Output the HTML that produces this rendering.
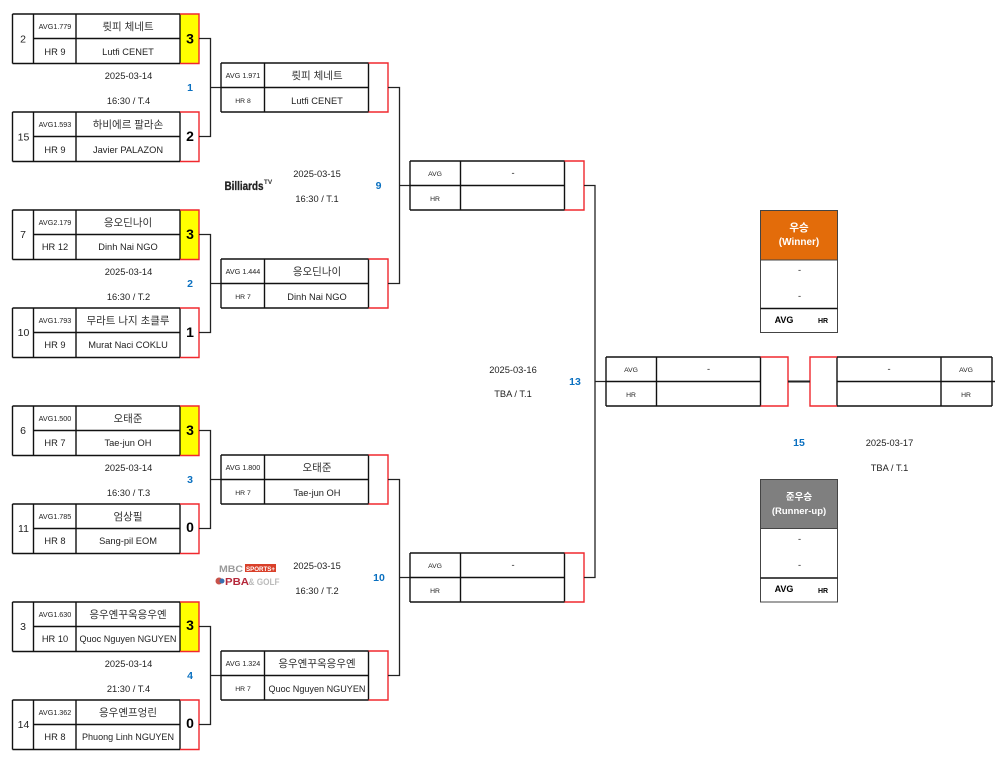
<!DOCTYPE html>
<html><head><meta charset="utf-8"><style>
html,body{margin:0;padding:0;background:#fff}
svg{display:block;font-family:"Liberation Sans","Noto Sans CJK KR",sans-serif}
text{text-anchor:middle;fill:#222;font-size:9.3px}
.s{font-size:7.2px}.x{font-size:6.8px}.k{font-size:10.5px;fill:#333}.d{font-size:9.3px}
.g{font-size:10.5px}
.n{fill:#0a70c0;font-weight:bold;font-size:10.5px}
.b{font-weight:bold;font-size:14px;fill:#000}
.f{fill:none;stroke:#111;stroke-width:1.4}
.r{fill:none;stroke:#f0282e;stroke-width:1.4}
.c{fill:none;stroke:#222;stroke-width:1.3}
</style></head><body>
<svg width="995" height="760" viewBox="0 0 995 760" xmlns="http://www.w3.org/2000/svg">
<defs>
<g id="a"><path class="f" d="M12.5 0H180M12.5 49.5H180M12.5 0V49.5M33.5 0V49.5M76 0V49.5M180 0V49.5M33.5 24.5H180"/><path class="r" d="M180 0H199V49.5H180"/></g>
<g id="b"><path class="f" d="M221 0H368.5M221 49H368.5M221 0V49M264.5 0V49M368.5 0V49M221 24.5H368.5"/><path class="r" d="M368.5 0H388V49H368.5"/></g>
<g id="e"><path class="f" d="M410 0H564.5M410 49H564.5M410 0V49M460.5 0V49M564.5 0V49M410 24.5H564.5"/><path class="r" d="M564.5 0H584V49H564.5"/></g>
<path id="q" class="c" d="M199 24.5H210.5V122.5H199M210.5 73.5H221"/>
<path id="t" class="c" d="M388 24.5H399.5V220.5H388M399.5 122.5H410"/>
</defs>

<rect x="180" y="14" width="19" height="49" fill="#ffff00"/>
<rect x="180" y="210" width="19" height="49" fill="#ffff00"/>
<rect x="180" y="406" width="19" height="49" fill="#ffff00"/>
<rect x="180" y="602" width="19" height="49" fill="#ffff00"/>

<use href="#a" y="14"/><use href="#a" y="112"/><use href="#a" y="210"/><use href="#a" y="308"/>
<use href="#a" y="406"/><use href="#a" y="504"/><use href="#a" y="602"/><use href="#a" y="700"/>
<use href="#q" y="14"/><use href="#q" y="210"/><use href="#q" y="406"/><use href="#q" y="602"/>
<use href="#b" y="63"/><use href="#b" y="259"/><use href="#b" y="455"/><use href="#b" y="651"/>
<use href="#t" y="63"/><use href="#t" y="455"/>
<use href="#e" y="161"/><use href="#e" y="553"/>
<path class="c" d="M584 185.5H595V577.5H584M595 381.5H606"/>

<!-- final -->
<path class="f" d="M606 357H760.5M606 406H760.5M606 357V406M656.5 357V406M760.5 357V406M606 381.5H760.5"/>
<path class="r" d="M760.5 357H788V406H760.5"/>
<path class="f" d="M837 357H992M837 406H992M992 357V406M941 357V406M837 357V406M837 381.5H995"/>
<path class="r" d="M837 357H810V406H837"/>
<path d="M788 381.5H810" fill="none" stroke="#222" stroke-width="2"/>

<!-- winner -->
<rect x="760.5" y="210.5" width="77" height="49.5" fill="#e36c0a"/>
<rect x="760.5" y="210.5" width="77" height="122" fill="none" stroke="#444" stroke-width="1"/>
<path d="M760.5 260H837.5" stroke="#444"/><path class="f" d="M760.5 308.5H837.5"/>
<rect x="760.5" y="479.5" width="77" height="49" fill="#7f7f7f"/>
<rect x="760.5" y="479.5" width="77" height="122.5" fill="none" stroke="#444" stroke-width="1"/>
<path d="M760.5 528.5H837.5" stroke="#444"/><path class="f" d="M760.5 578H837.5"/>

<g font-weight="bold">
<text x="799" y="231" style="fill:#fff;font-size:10.5px;font-weight:bold">우승</text>
<text x="799" y="245" style="fill:#fff;font-size:10px;font-weight:bold">(Winner)</text>
<text x="799" y="500" style="fill:#fff;font-size:9.5px;font-weight:bold">준우승</text>
<text x="799" y="514" style="fill:#fff;font-size:9.5px;font-weight:bold">(Runner-up)</text>
<text x="784" y="323" style="font-size:9px;font-weight:bold;fill:#000">AVG</text>
<text x="823" y="323" style="font-size:7px;font-weight:bold;fill:#000">HR</text>
<text x="784" y="592" style="font-size:9px;font-weight:bold;fill:#000">AVG</text>
<text x="823" y="593" style="font-size:7px;font-weight:bold;fill:#000">HR</text>
</g>
<text x="799.5" y="273">-</text><text x="799.5" y="299">-</text>
<text x="799.5" y="542">-</text><text x="799.5" y="568">-</text>

<!-- round 1 -->
<text class="g" x="23" y="42.5">2</text><text class="s" x="55" y="29">AVG1.779</text><text class="k" x="128" y="30">륏피 체네트</text><text x="55" y="55">HR 9</text><text x="128" y="55">Lutfi CENET</text><text class="b" x="190" y="43.5">3</text>
<text x="128.5" y="79">2025-03-14</text><text x="128.5" y="104">16:30 / T.4</text><text class="n" x="190" y="91">1</text>
<text class="g" x="23.5" y="140.5">15</text><text class="s" x="55" y="127">AVG1.593</text><text class="k" x="128" y="128">하비에르 팔라손</text><text x="55" y="153">HR 9</text><text x="128" y="153">Javier PALAZON</text><text class="b" x="190" y="141">2</text>

<text class="g" x="23" y="238">7</text><text class="s" x="55" y="225">AVG2.179</text><text class="k" x="128" y="226">응오딘나이</text><text x="55" y="250">HR 12</text><text x="128" y="250">Dinh Nai NGO</text><text class="b" x="190" y="239">3</text>
<text x="128.5" y="275">2025-03-14</text><text x="128.5" y="300">16:30 / T.2</text><text class="n" x="190" y="287">2</text>
<text class="g" x="23.5" y="336">10</text><text class="s" x="55" y="323">AVG1.793</text><text class="k" x="128" y="324">무라트 나지 초클루</text><text x="55" y="348">HR 9</text><text x="128" y="348">Murat Naci COKLU</text><text class="b" x="190" y="337">1</text>

<text class="g" x="23" y="434">6</text><text class="s" x="55" y="421">AVG1.500</text><text class="k" x="128" y="422">오태준</text><text x="55" y="446">HR 7</text><text x="128" y="446">Tae-jun OH</text><text class="b" x="190" y="435">3</text>
<text x="128.5" y="471">2025-03-14</text><text x="128.5" y="496">16:30 / T.3</text><text class="n" x="190" y="483">3</text>
<text class="g" x="23.5" y="532">11</text><text class="s" x="55" y="519">AVG1.785</text><text class="k" x="128" y="520">엄상필</text><text x="55" y="544">HR 8</text><text x="128" y="544">Sang-pil EOM</text><text class="b" x="190" y="532">0</text>

<text class="g" x="23" y="630">3</text><text class="s" x="55" y="617">AVG1.630</text><text class="k" x="128" y="618">응우옌꾸옥응우옌</text><text x="55" y="642">HR 10</text><text x="128" y="642" textLength="97" lengthAdjust="spacingAndGlyphs">Quoc Nguyen NGUYEN</text><text class="b" x="190" y="630">3</text>
<text x="128.5" y="667">2025-03-14</text><text x="128.5" y="692">21:30 / T.4</text><text class="n" x="190" y="679">4</text>
<text class="g" x="23.5" y="728">14</text><text class="s" x="55" y="715">AVG1.362</text><text class="k" x="128" y="716">응우옌프엉린</text><text x="55" y="740">HR 8</text><text x="128" y="740" textLength="92" lengthAdjust="spacingAndGlyphs">Phuong Linh NGUYEN</text><text class="b" x="190" y="728">0</text>

<!-- round 2 -->
<text class="s" x="243" y="78">AVG 1.971</text><text class="k" x="317" y="79">륏피 체네트</text><text class="x" x="243" y="103">HR 8</text><text x="317" y="104">Lutfi CENET</text>
<text x="317" y="177">2025-03-15</text><text x="317" y="202">16:30 / T.1</text><text class="n" x="378.5" y="189">9</text>
<text class="s" x="243" y="274">AVG 1.444</text><text class="k" x="317" y="275">응오딘나이</text><text class="x" x="243" y="299">HR 7</text><text x="317" y="300">Dinh Nai NGO</text>
<text class="s" x="243" y="470">AVG 1.800</text><text class="k" x="317" y="471">오태준</text><text class="x" x="243" y="495">HR 7</text><text x="317" y="496">Tae-jun OH</text>
<text x="317" y="569">2025-03-15</text><text x="317" y="594">16:30 / T.2</text><text class="n" x="379" y="581">10</text>
<text class="s" x="243" y="666">AVG 1.324</text><text class="k" x="317" y="667">응우옌꾸옥응우옌</text><text class="x" x="243" y="691">HR 7</text><text x="317" y="692" textLength="97" lengthAdjust="spacingAndGlyphs">Quoc Nguyen NGUYEN</text>

<!-- round 3 -->
<text class="x" x="435" y="176">AVG</text><text x="513" y="176">-</text><text class="x" x="435" y="201">HR</text>
<text class="x" x="435" y="568">AVG</text><text x="513" y="568">-</text><text class="x" x="435" y="593">HR</text>
<text x="513" y="373">2025-03-16</text><text x="513" y="397">TBA / T.1</text><text class="n" x="575" y="385">13</text>

<!-- final labels -->
<text class="x" x="631" y="372">AVG</text><text x="708.5" y="372">-</text><text class="x" x="631" y="397">HR</text>
<text x="889" y="372">-</text><text class="x" x="966" y="372">AVG</text><text class="x" x="966" y="397">HR</text>
<text class="n" x="799" y="446">15</text><text x="889.5" y="446">2025-03-17</text><text x="889.5" y="471">TBA / T.1</text>

<!-- logos -->
<text x="244" y="190" style="font-size:11.5px;font-weight:bold;fill:#222;stroke:#222;stroke-width:.3" textLength="39" lengthAdjust="spacingAndGlyphs">Billiards</text>
<text x="268" y="184" style="font-size:6.5px;font-weight:bold;fill:#333">TV</text>
<text x="231" y="572" style="font-size:9px;font-weight:bold;fill:#999" textLength="24" lengthAdjust="spacingAndGlyphs">MBC</text>
<rect x="245" y="564" width="31" height="8" fill="#d9402a"/>
<text x="260.5" y="571" style="font-size:6.5px;font-weight:bold;fill:#fff" textLength="29" lengthAdjust="spacingAndGlyphs">SPORTS+</text>
<circle cx="219" cy="581" r="3.5" fill="#c8524a"/><circle cx="222" cy="581" r="2.5" fill="#3a6fb0"/>
<text x="237" y="585" style="font-size:10px;font-weight:bold;fill:#b5283a" textLength="24" lengthAdjust="spacingAndGlyphs">PBA</text>
<text x="264" y="585" style="font-size:9px;font-weight:bold;fill:#bbb" textLength="31" lengthAdjust="spacingAndGlyphs">&amp; GOLF</text>
</svg>
</body></html>
